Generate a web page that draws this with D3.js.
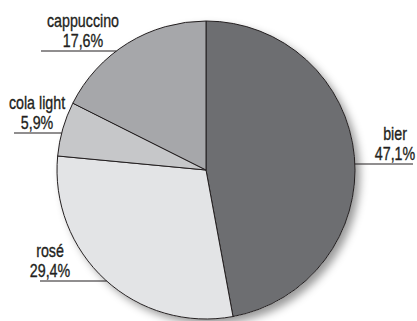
<!DOCTYPE html>
<html>
<head>
<meta charset="utf-8">
<script src="https://cdn.jsdelivr.net/npm/d3@7"></script>
<style>
  html, body { margin: 0; padding: 0; background: #fff; }
  svg { display: block; }
  .label { font-family: "Liberation Sans", Arial, sans-serif; font-size: 19px; fill: #231f20; stroke: #231f20; stroke-width: 0.35px; }
</style>
</head>
<body>
<script>
// data
var categories = ["bier", "rosé", "cola light", "cappuccino"];
var values = [47.1, 29.4, 5.9, 17.6];
var colors = ["#6d6e71", "#e3e4e6", "#c6c7c9", "#a6a7aa"];

// label layout: y of the leader line, x of its free end, x of the text centre
var labelLayout = {
  "bier":       {lineY: 164, lineEnd: 413, textX: 395},
  "rosé":       {lineY: 281, lineEnd: 40,  textX: 50},
  "cola light": {lineY: 133, lineEnd: 14,  textX: 37},
  "cappuccino": {lineY: 51,  lineEnd: 41,  textX: 83}
};

function piechart(){
  var width = 417, height = 321,
      cx = 206, cy = 170, radius = 149,
      narrow = 0.75; // fake a condensed face

  var svg = d3.select("body").append("svg")
      .attr("width", width)
      .attr("height", height);

  var defs = svg.append("defs");
  var filter = defs.append("filter")
      .attr("id", "shadow")
      .attr("x", "-20%").attr("y", "-20%")
      .attr("width", "150%").attr("height", "150%");
  filter.append("feDropShadow")
      .attr("dx", 5).attr("dy", 5)
      .attr("stdDeviation", 4)
      .attr("flood-color", "#000")
      .attr("flood-opacity", 0.4);

  var g = svg.append("g")
      .attr("transform", "translate(" + cx + "," + cy + ")");

  var pie = d3.pie().sort(null);
  var arc = d3.arc().innerRadius(0).outerRadius(radius);
  var piedata = pie(values);

  // shadow disc underneath
  g.append("circle")
    .attr("r", radius)
    .style("fill", "#fff")
    .attr("filter", "url(#shadow)");

  g.selectAll(".arc")
    .data(piedata)
  .enter().append("path")
    .attr("class", "arc")
    .attr("d", arc)
    .style("fill", function(d, i){ return colors[i]; })
    .style("stroke", "#231f20")
    .style("stroke-width", 1)
    .style("stroke-linejoin", "round");

  var fmt = function(v){ return d3.format(".1f")(v).replace(".", ",") + "%"; };

  var labels = svg.selectAll(".pie-label")
    .data(piedata)
  .enter().append("g")
    .attr("class", "pie-label");

  labels.each(function(d, i){
    var name = categories[i],
        lay = labelLayout[name],
        mid = (d.startAngle + d.endAngle) / 2,
        side = Math.sin(mid) >= 0 ? 1 : -1,
        dy = lay.lineY - cy,
        edgeX = cx + side * Math.sqrt(radius * radius - dy * dy),
        sel = d3.select(this);

    sel.append("line")
      .attr("x1", edgeX)
      .attr("y1", lay.lineY)
      .attr("x2", lay.lineEnd)
      .attr("y2", lay.lineY)
      .style("stroke", "#231f20")
      .style("stroke-width", 1.2);

    sel.append("text")
      .attr("class", "label")
      .attr("transform", "translate(" + lay.textX + "," + (lay.lineY - 24) + ")scale(" + narrow + ",1)")
      .attr("text-anchor", "middle")
      .text(name);

    sel.append("text")
      .attr("class", "label")
      .attr("transform", "translate(" + lay.textX + "," + (lay.lineY - 4) + ")scale(" + narrow + ",1)")
      .attr("text-anchor", "middle")
      .text(fmt(values[i]));
  });
}

piechart();
</script>
</body>
</html>
